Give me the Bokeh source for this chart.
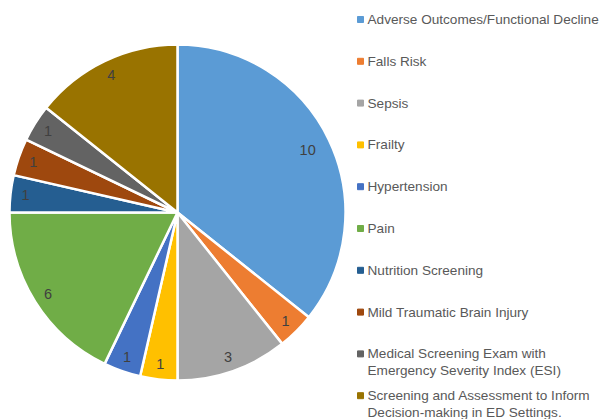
import math
from bokeh.plotting import figure
from bokeh.models import Range1d, ColumnDataSource
from bokeh.core.properties import value
from bokeh.embed import file_html
from bokeh.resources import INLINE

categories = [
    "Adverse Outcomes/Functional Decline",
    "Falls Risk",
    "Sepsis",
    "Frailty",
    "Hypertension",
    "Pain",
    "Nutrition Screening",
    "Mild Traumatic Brain Injury",
    "Medical Screening Exam with\nEmergency Severity Index (ESI)",
    "Screening and Assessment to Inform\nDecision-making in ED Settings.",
]
# slice sizes as drawn in the picture
slice_sizes = [10, 1, 3, 1, 1, 5, 1, 1, 1, 4]
# data labels as printed on the slices
data_labels = ["10", "1", "3", "1", "1", "6", "1", "1", "1", "4"]
colors = ["#5B9BD5", "#ED7D31", "#A5A5A5", "#FFC000", "#4472C4",
          "#70AD47", "#255E91", "#9E480E", "#636363", "#997300"]

W, H = 600, 419
p = figure(width=W, height=H, output_backend="svg", toolbar_location=None,
           x_range=Range1d(0, W), y_range=Range1d(0, H),
           min_border=0)
p.axis.visible = False
p.grid.visible = False
p.outline_line_color = None

cx, cy, r = 177, 419 - 212, 168
total = sum(slice_sizes)
starts, ends, lx, ly = [], [], [], []
cum = 0
for c in slice_sizes:
    a0 = math.pi / 2 - cum / total * 2 * math.pi
    a1 = math.pi / 2 - (cum + c) / total * 2 * math.pi
    starts.append(a0)
    ends.append(a1)
    mid = (a0 + a1) / 2
    lr = r * (0.86 if c == max(slice_sizes) else 0.91)
    lx.append(cx + lr * math.cos(mid))
    ly.append(cy + lr * math.sin(mid))
    cum += c

src = ColumnDataSource(dict(s=starts, e=ends, color=colors,
                            lx=lx, ly=ly, lab=data_labels))
p.wedge(x=cx, y=cy, radius=r, start_angle="s", end_angle="e",
        direction="clock", fill_color="color", line_color="white",
        line_width=2.5, source=src)
p.text(x="lx", y="ly", text="lab", source=src, text_align="center",
       text_baseline="middle", text_font=value("Liberation Sans"),
       text_font_size="14.5px", text_color="#404040")

# legend
mx, my = [], []
tx, ty, tt = [], [], []
for i, cat in enumerate(categories):
    y = 419 - (19 + i * 41.8)
    mx.append(360)
    my.append(y)
    for j, line in enumerate(cat.split("\n")):
        tx.append(367)
        ty.append(y - j * 17)
        tt.append(line)
p.scatter(x=mx, y=my, marker="square", size=6, color=colors)
p.text(x=tx, y=ty, text=tt, text_align="left", text_baseline="middle",
       text_font=value("Liberation Sans"), text_font_size="13.6px",
       text_color="#595959")

open("out.html", "w").write(file_html(p, INLINE))
